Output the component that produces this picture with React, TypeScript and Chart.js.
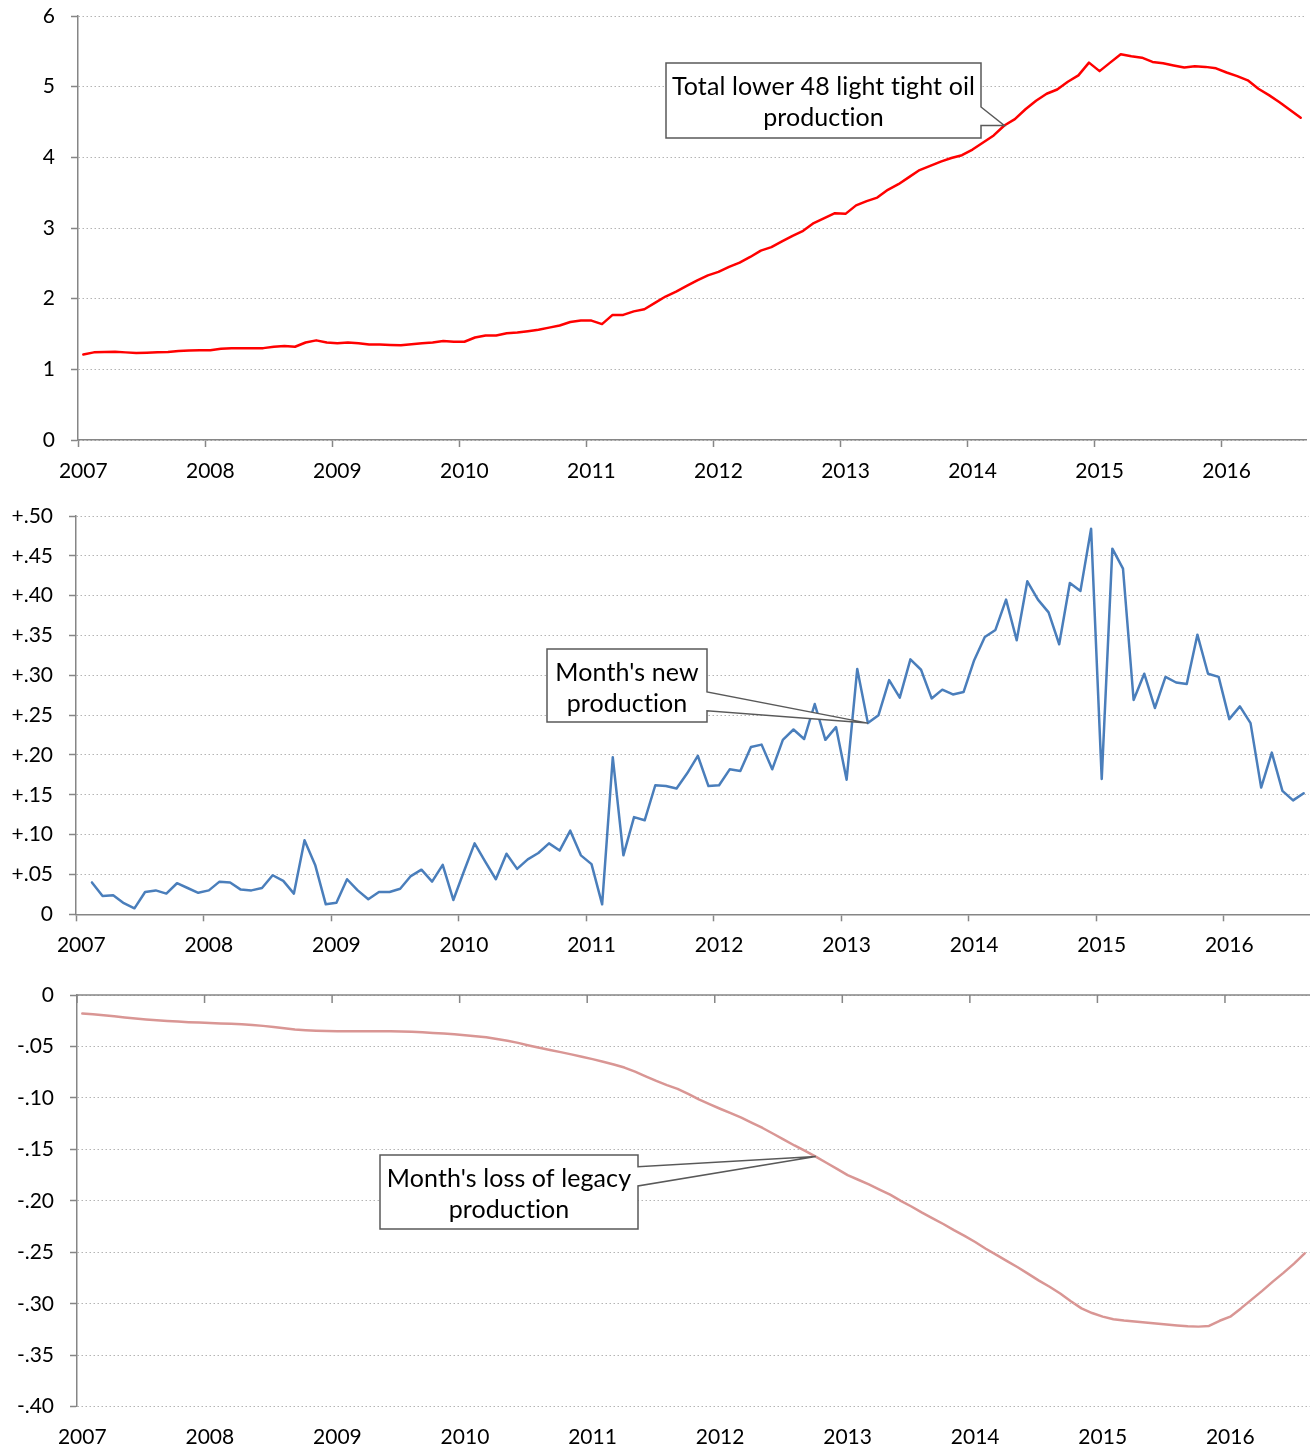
import React, { useEffect, useRef } from "react";
import { Chart, registerables } from "chart.js";

Chart.register(...registerables);

// ---------------- DATA ----------------
const MONTH_COUNT = 116; // Jan 2007 .. Aug 2016
const yearTickMonths = [0, 12, 24, 36, 48, 60, 72, 84, 96, 108];
const yearLabels = ["2007", "2008", "2009", "2010", "2011", "2012", "2013", "2014", "2015", "2016"];

// Total lower 48 light tight oil production (Mb/d), monthly from Jan 2007
const totalProduction = [
  1.21, 1.24, 1.245, 1.25, 1.24, 1.23, 1.235, 1.24, 1.245, 1.26, 1.265, 1.27,
  1.27, 1.29, 1.3, 1.3, 1.3, 1.3, 1.32, 1.33, 1.32, 1.38, 1.41, 1.38,
  1.37, 1.38, 1.37, 1.35, 1.35, 1.345, 1.34, 1.355, 1.37, 1.38, 1.4, 1.39,
  1.39, 1.45, 1.48, 1.48, 1.51, 1.52, 1.54, 1.56, 1.59, 1.62, 1.67, 1.69,
  1.69, 1.64, 1.77, 1.77, 1.82, 1.85, 1.94, 2.03, 2.1, 2.18, 2.26, 2.33,
  2.38, 2.45, 2.51, 2.59, 2.68, 2.73, 2.81, 2.89, 2.96, 3.07, 3.14, 3.21,
  3.2, 3.32, 3.38, 3.43, 3.54, 3.62, 3.72, 3.82, 3.88, 3.94, 3.99, 4.03,
  4.11, 4.21, 4.31, 4.45, 4.54, 4.68, 4.8, 4.9, 4.96, 5.07, 5.16, 5.34,
  5.22, 5.34, 5.46, 5.43, 5.41, 5.35, 5.33, 5.3, 5.27, 5.29, 5.28, 5.26,
  5.2, 5.15, 5.09, 4.97, 4.88, 4.78, 4.67, 4.56,
];

// Month's new production, monthly from Jan 2007 (first month has no value)
const newProduction: (number | null)[] = [
  null, 0.04, 0.023, 0.024, 0.014, 0.0075, 0.028, 0.03, 0.026, 0.039, 0.033, 0.027,
  0.03, 0.041, 0.04, 0.031, 0.03, 0.033, 0.049, 0.042, 0.026, 0.093, 0.062, 0.0125,
  0.0145, 0.044, 0.03, 0.019, 0.028, 0.028, 0.032, 0.048, 0.056, 0.041, 0.062, 0.018,
  0.054, 0.089, 0.066, 0.044, 0.076, 0.057, 0.069, 0.077, 0.089, 0.08, 0.105, 0.074,
  0.063, 0.0125, 0.197, 0.074, 0.122, 0.118, 0.162, 0.161, 0.158, 0.177, 0.199, 0.161,
  0.162, 0.182, 0.18, 0.21, 0.213, 0.182, 0.219, 0.232, 0.22, 0.264, 0.219, 0.235,
  0.169, 0.308, 0.24, 0.25, 0.294, 0.272, 0.32, 0.307, 0.271, 0.282, 0.276, 0.279,
  0.319, 0.348, 0.357, 0.395, 0.344, 0.418, 0.395, 0.379, 0.339, 0.416, 0.406, 0.484,
  0.17, 0.459, 0.434, 0.269, 0.302, 0.259, 0.298, 0.291, 0.289, 0.351, 0.302, 0.298,
  0.245, 0.261, 0.24, 0.159, 0.203, 0.155, 0.143, 0.152,
];

// Month's loss of legacy production, monthly from Jan 2007
const legacyLoss = [
  -0.018, -0.0188, -0.0197, -0.0207, -0.0218, -0.0228, -0.0237, -0.0245, -0.0252, -0.0258, -0.0264, -0.0268,
  -0.0272, -0.0276, -0.028, -0.0284, -0.0292, -0.03, -0.031, -0.0322, -0.0335, -0.0342, -0.0347, -0.035,
  -0.0351, -0.0352, -0.0352, -0.0352, -0.0352, -0.0352, -0.0354, -0.0358, -0.0363, -0.0369, -0.0375, -0.0381,
  -0.039, -0.04, -0.041, -0.0428, -0.0445, -0.0465, -0.049, -0.0513, -0.0535, -0.0555, -0.0577, -0.06,
  -0.0623, -0.0648, -0.0675, -0.0705, -0.0745, -0.079, -0.0835, -0.0875, -0.0912, -0.096, -0.1015, -0.106,
  -0.1105, -0.1148, -0.1192, -0.1243, -0.1292, -0.1348, -0.1405, -0.1462, -0.1515, -0.157, -0.163, -0.169,
  -0.175, -0.1795, -0.184, -0.189, -0.194, -0.2, -0.2055, -0.2115, -0.217, -0.2225, -0.2285, -0.234,
  -0.24, -0.2465, -0.2525, -0.2585, -0.2645, -0.271, -0.2775, -0.2835, -0.29, -0.2975, -0.3045, -0.309,
  -0.3125, -0.315, -0.3163, -0.3173, -0.3182, -0.3192, -0.3202, -0.321, -0.3218, -0.3222, -0.3215, -0.3165,
  -0.3125, -0.3045, -0.296, -0.2875, -0.2785, -0.27, -0.261, -0.251,
];

const totalTicks = [0, 1, 2, 3, 4, 5, 6];
const totalTickLabels = ["0", "1", "2", "3", "4", "5", "6"];
const newTicks = [0, 0.05, 0.1, 0.15, 0.2, 0.25, 0.3, 0.35, 0.4, 0.45, 0.5];
const newTickLabels = ["0", "+.05", "+.10", "+.15", "+.20", "+.25", "+.30", "+.35", "+.40", "+.45", "+.50"];
const legacyTicks = [-0.4, -0.35, -0.3, -0.25, -0.2, -0.15, -0.1, -0.05, 0];
const legacyTickLabels = ["-.40", "-.35", "-.30", "-.25", "-.20", "-.15", "-.10", "-.05", "0"];

const totalCallout = ["Total lower 48 light tight oil", "production"];
const newCallout = ["Month's new", "production"];
const legacyCallout = ["Month's loss of legacy", "production"];

// ---------------- STYLE / LAYOUT ----------------
const FONT = "Lato";
const GRID_COLOR = "#B4B4B4";
const AXIS_COLOR = "#868686";
const BOX_COLOR = "#595959";
const PAD_TOP = 30; // chart area starts this far below each canvas top

type Panel = {
  key: string;
  chartTop: number; // page y of chart area top
  chartBottom: number; // page y of chart area bottom
  canvasBottom: number; // page y of canvas bottom
  yWidth: number;
  padRight: number;
  xLabelPad: number;
  topAxis: boolean;
  values: (number | null)[];
  color: string;
  yMin: number;
  yMax: number;
  yTicks: number[];
  yLabels: string[];
  callout: {
    lines: string[];
    x1: number; y1: number; x2: number; y2: number; // page coords
    w1: number; w2: number; // page y of wedge attachment on right edge
    index: number;
  };
};

const PANELS: Panel[] = [
  {
    key: "total", chartTop: 16, chartBottom: 440, canvasBottom: 495,
    yWidth: 78, padRight: 8, xLabelPad: 11.5, topAxis: false,
    values: totalProduction, color: "#FF0000",
    yMin: 0, yMax: 6, yTicks: totalTicks, yLabels: totalTickLabels,
    callout: { lines: totalCallout, x1: 666, y1: 63, x2: 981, y2: 138, w1: 107, w2: 125.5, index: 87 },
  },
  {
    key: "new", chartTop: 516, chartBottom: 914.3, canvasBottom: 960,
    yWidth: 76, padRight: 5, xLabelPad: 11, topAxis: false,
    values: newProduction, color: "#4A7EBB",
    yMin: 0, yMax: 0.5, yTicks: newTicks, yLabels: newTickLabels,
    callout: { lines: newCallout, x1: 547, y1: 649, x2: 707, y2: 722, w1: 692, w2: 710.7, index: 74 },
  },
  {
    key: "legacy", chartTop: 995, chartBottom: 1406.7, canvasBottom: 1450,
    yWidth: 77, padRight: 4, xLabelPad: 17.7, topAxis: true,
    values: legacyLoss, color: "#D99694",
    yMin: -0.4, yMax: 0, yTicks: legacyTicks, yLabels: legacyTickLabels,
    callout: { lines: legacyCallout, x1: 380, y1: 1155, x2: 638, y2: 1229, w1: 1166.7, w2: 1186, index: 69 },
  },
];

function canvasTop(p: Panel) {
  return p.chartTop - PAD_TOP;
}
function canvasHeight(p: Panel) {
  return p.canvasBottom - canvasTop(p);
}

function buildChart(canvas: HTMLCanvasElement, p: Panel): Chart {
  const points = p.values
    .map((v, i) => (v === null ? null : { x: i + 0.5, y: v }))
    .filter((d) => d !== null) as { x: number; y: number }[];
  const off = canvasTop(p);
  const xHeight = p.canvasBottom - p.chartBottom;

  const decorPlugin = {
    id: "decor_" + p.key,
    afterDatasetsDraw(chart: any) {
      const ctx: CanvasRenderingContext2D = chart.ctx;
      const area = chart.chartArea;
      const xs = chart.scales.x;
      const ys = chart.scales.y;
      if (p.topAxis) {
        ctx.save();
        ctx.strokeStyle = AXIS_COLOR;
        ctx.lineWidth = 1.5;
        ctx.beginPath();
        ctx.moveTo(area.left, area.top);
        ctx.lineTo(area.right, area.top);
        for (const t of xs.ticks) {
          const px = xs.getPixelForValue(t.value);
          ctx.moveTo(px, area.top);
          ctx.lineTo(px, area.top + 8);
        }
        ctx.stroke();
        ctx.restore();
      }
      const c = p.callout;
      const v = p.values[c.index] as number;
      const ax = xs.getPixelForValue(c.index + 0.5);
      const ay = ys.getPixelForValue(v);
      const y1 = c.y1 - off;
      const y2 = c.y2 - off;
      ctx.save();
      ctx.beginPath();
      ctx.moveTo(c.x1, y1);
      ctx.lineTo(c.x2, y1);
      ctx.lineTo(c.x2, c.w1 - off);
      ctx.lineTo(ax, ay);
      ctx.lineTo(c.x2, c.w2 - off);
      ctx.lineTo(c.x2, y2);
      ctx.lineTo(c.x1, y2);
      ctx.closePath();
      ctx.fillStyle = "#FFFFFF";
      ctx.fill();
      ctx.strokeStyle = BOX_COLOR;
      ctx.lineWidth = 1.5;
      ctx.stroke();
      ctx.fillStyle = "#000000";
      ctx.font = `25px ${FONT}`;
      try {
        (ctx as any).letterSpacing = "0.1px"; // avoids "ti" ligatures
      } catch (e) {
        /* ignore */
      }
      ctx.textAlign = "center";
      ctx.textBaseline = "alphabetic";
      const cx = (c.x1 + c.x2) / 2;
      c.lines.forEach((line, i) => {
        ctx.fillText(line, cx, y1 + 31.5 + i * 31.5);
      });
      ctx.restore();
    },
  };

  const tickFont = { family: FONT, size: 21 };

  return new Chart(canvas, {
    type: "line",
    data: {
      datasets: [
        {
          data: points,
          borderColor: p.color,
          borderWidth: 2.5,
          pointRadius: 0,
          tension: 0,
          fill: false,
          borderJoinStyle: "round",
          borderCapStyle: "round",
        } as any,
      ],
    },
    options: {
      responsive: false,
      maintainAspectRatio: false,
      animation: false,
      events: [],
      layout: { padding: { top: PAD_TOP, right: p.padRight, left: 0, bottom: 0 } },
      plugins: { legend: { display: false }, tooltip: { enabled: false } },
      scales: {
        x: {
          type: "linear",
          position: "bottom",
          min: 0,
          max: MONTH_COUNT,
          afterBuildTicks: (s: any) => {
            s.ticks = yearTickMonths.map((v) => ({ value: v }));
          },
          afterFit: (s: any) => {
            s.height = xHeight;
          },
          ticks: {
            autoSkip: false,
            maxRotation: 0,
            minRotation: 0,
            labelOffset: 5.3,
            padding: p.xLabelPad,
            color: "#000",
            font: tickFont,
            callback: (value: any) => {
              const k = yearTickMonths.indexOf(Number(value));
              return k >= 0 ? yearLabels[k] : "";
            },
          },
          grid: {
            display: !p.topAxis,
            drawOnChartArea: false,
            drawTicks: !p.topAxis,
            tickLength: 7,
            tickColor: AXIS_COLOR,
            tickWidth: 1.5,
          },
          border: { display: !p.topAxis, color: AXIS_COLOR, width: 1.5 },
        } as any,
        y: {
          type: "linear",
          min: p.yMin,
          max: p.yMax,
          afterBuildTicks: (s: any) => {
            s.ticks = p.yTicks.map((v) => ({ value: v }));
          },
          afterFit: (s: any) => {
            s.width = p.yWidth;
          },
          ticks: {
            padding: 16,
            color: "#000",
            font: tickFont,
            callback: (_v: any, i: number) => p.yLabels[i],
          },
          grid: {
            color: GRID_COLOR,
            lineWidth: 1,
            drawTicks: true,
            tickLength: 7,
            tickColor: AXIS_COLOR,
            tickWidth: 1.5,
          },
          border: { display: true, color: AXIS_COLOR, width: 1.5, dash: [1.5, 2.5] },
        } as any,
      },
    },
    plugins: [decorPlugin],
  } as any);
}

export default function App() {
  const canvases = useRef<(HTMLCanvasElement | null)[]>([]);

  useEffect(() => {
    const charts = PANELS.map((p, i) => buildChart(canvases.current[i] as HTMLCanvasElement, p));
    return () => charts.forEach((c) => c.destroy());
  }, []);

  return (
    <div
      style={{
        position: "absolute",
        left: 0,
        top: 0,
        width: 1314,
        height: 1450,
        overflow: "hidden",
        background: "#FFFFFF",
      }}
    >
      {PANELS.map((p, i) => (
        <canvas
          key={p.key}
          ref={(el) => {
            canvases.current[i] = el;
          }}
          width={1314}
          height={Math.round(canvasHeight(p))}
          style={{
            position: "absolute",
            left: 0,
            top: canvasTop(p),
            width: 1314,
            height: Math.round(canvasHeight(p)),
          }}
        />
      ))}
    </div>
  );
}
